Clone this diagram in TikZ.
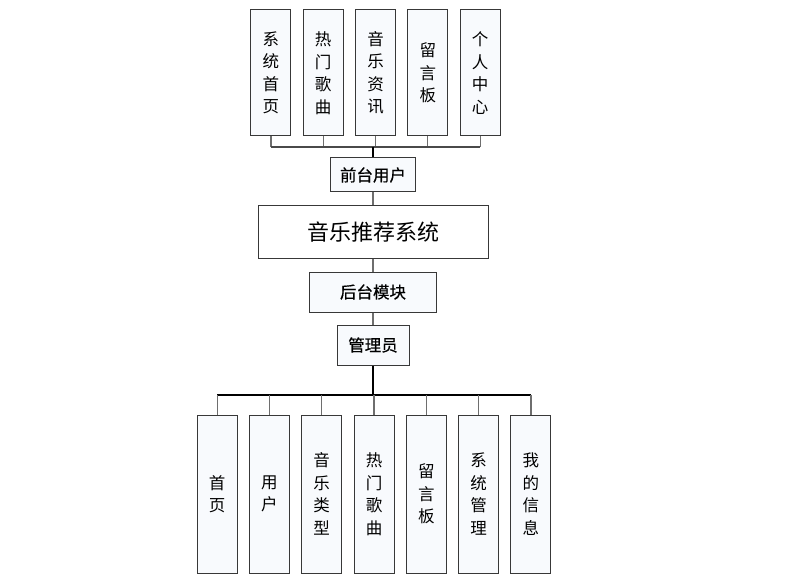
\documentclass[tikz,border=0pt]{standalone}
\usepackage{fontspec}
\usepackage{tikz}
\usetikzlibrary{positioning, calc}
\newfontfamily\cjk{Noto Sans CJK SC}
\newfontfamily\cjkmid[FakeBold=0.5]{Noto Sans CJK SC}
\definecolor{boxline}{HTML}{383838}
\definecolor{boxfill}{HTML}{F8FAFD}
\definecolor{wire}{HTML}{6E6E6E}
\definecolor{wiredark}{HTML}{4A4A4A}
\tikzset{
  leaf/.style   = {rectangle, draw=boxline, line width=1pt, fill=boxfill,
                   minimum width=40pt, minimum height=126pt, inner sep=0pt,
                   align=center, font=\cjk\fontsize{16.5}{22.5}\selectfont},
  lowleaf/.style= {leaf, minimum height=158pt},
  hub/.style    = {rectangle, draw=boxline, line width=1pt, fill=boxfill,
                   minimum height=40pt, inner sep=0pt, align=center,
                   font=\cjkmid\fontsize{16.5}{18}\selectfont},
  sysbox/.style = {rectangle, draw=boxline, line width=1pt, fill=white,
                   minimum width=230pt, minimum height=52pt, inner sep=0pt,
                   align=center, font=\cjk\fontsize{22}{25}\selectfont},
  link/.style   = {draw=wire, line width=1.2pt},
  feed/.style   = {draw=wire, line width=1.2pt},
  topbus/.style = {draw=wiredark, line width=1.4pt},
  trunk/.style  = {draw=black, line width=2pt},
  lowbus/.style = {draw=black, line width=1.4pt},
}

\begin{document}
\begin{tikzpicture}[x=1pt, y=-1pt, node distance=11.3pt]
  \useasboundingbox (0,0) rectangle (799,585);

  % spine
  \node[sysbox] (sys) at (373,232) {音乐推荐系统};
  \node[hub, minimum width=85pt, minimum height=34pt, above=13pt of sys] (front) {前台用户};
  \node[hub, minimum width=127pt, below=13pt of sys] (back) {后台模块};
  \node[hub, minimum width=72pt, below=12pt of back] (admin) {管理员};

  % front-end pages
  \node[leaf, above=21pt of front, xshift=2.5pt] (t3) {音\\乐\\资\\讯};
  \node[leaf, left=of t3] (t2) {热\\门\\歌\\曲};
  \node[leaf, left=of t2] (t1) {系\\统\\首\\页};
  \node[leaf, right=of t3] (t4) {留\\言\\板};
  \node[leaf, right=of t4] (t5) {个\\人\\中\\心};

  % admin pages
  \node[lowleaf, below=49pt of admin, xshift=1pt] (b4) {热\\门\\歌\\曲};
  \node[lowleaf, left=of b4] (b3) {音\\乐\\类\\型};
  \node[lowleaf, left=of b3] (b2) {用\\户};
  \node[lowleaf, left=of b2] (b1) {首\\页};
  \node[lowleaf, right=of b4] (b5) {留\\言\\板};
  \node[lowleaf, right=of b5] (b6) {系\\统\\管\\理};
  \node[lowleaf, right=of b6] (b7) {我\\的\\信\\息};

  % wires
  \coordinate (tbus) at ($(front.north)!0.5!(front.north |- t3.south)$);
  \coordinate (bbus) at ($(admin.south)!0.6!(admin.south |- b4.north)$);

  \foreach \i in {1,...,5}
    \draw[feed] (t\i.south) -- (t\i.south |- tbus);
  \draw[topbus] (t1.south |- tbus) -- (t5.south |- tbus);
  \draw[trunk] (tbus) -- (front.north);

  \draw[link] (front) -- (sys);
  \draw[link] (sys) -- (back);
  \draw[link] (back) -- (admin);

  \draw[trunk] (admin.south) -- (bbus);
  \draw[lowbus] (b1.north |- bbus) -- (b7.north |- bbus);
  \foreach \i in {1,...,7}
    \draw[feed] (b\i.north |- bbus) -- (b\i.north);

\end{tikzpicture}
\end{document}
